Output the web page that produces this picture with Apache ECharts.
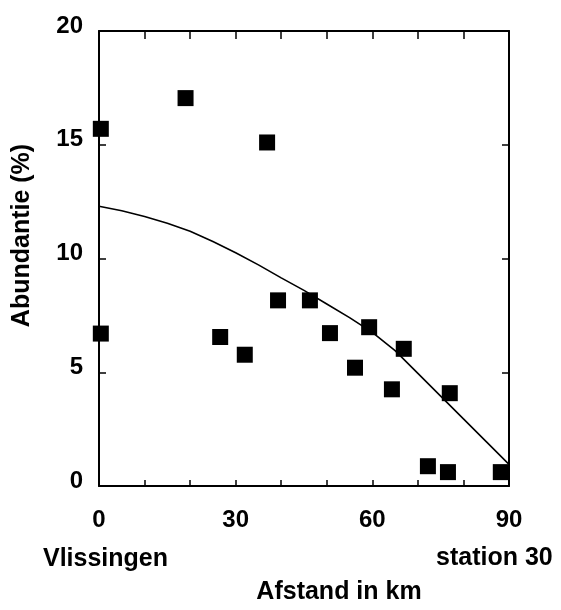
<!DOCTYPE html>
<html>
<head>
<meta charset="utf-8">
<script src="https://cdn.jsdelivr.net/npm/echarts@6/dist/echarts.min.js"></script>
<style>html,body{margin:0;padding:0;background:#fff;}#c{width:561px;height:610px;}</style>
</head>
<body>
<div id="c"></div>
<script>
// Observed stations: distance (km) and abundance (%)
var stationKm = [0.4, 0.4, 19, 26.6, 32, 36.9, 39.3, 46.3, 50.7, 56.2, 59.3, 64.3, 66.9, 72.2, 76.6, 77.0, 88.2];
var abundance = [15.7, 6.7, 17.05, 6.55, 5.77, 15.1, 8.16, 8.16, 6.72, 5.2, 6.98, 4.25, 6.03, 0.87, 0.61, 4.08, 0.61];
// Fitted curve
var curveKm = [0, 5, 10, 15, 20, 25, 30, 35, 40, 45, 50, 55, 60, 65, 70, 75, 80, 85, 90];
var curveVal = [12.3, 12.1, 11.85, 11.55, 11.2, 10.75, 10.25, 9.72, 9.15, 8.6, 8.0, 7.4, 6.75, 5.95, 4.95, 3.95, 2.95, 1.95, 0.95];
var xTickLabels = [0, 30, 60, 90];
var yTickLabels = [0, 5, 10, 15, 20];

var FONT = '"Liberation Sans", Arial, sans-serif';
var chart = echarts.init(document.getElementById('c'), null, {renderer: 'canvas'});
var axisLine = {show: true, onZero: false, lineStyle: {color: '#000', width: 2}};
var scatterData = stationKm.map(function (x, i) { return [x, abundance[i]]; });
var curveData = curveKm.map(function (x, i) { return [x, curveVal[i]]; });

chart.setOption({
  animation: false,
  backgroundColor: '#fff',
  grid: {left: 99, top: 31, right: 52, bottom: 118, containLabel: false},
  xAxis: [{
    type: 'value', position: 'bottom', min: 0, max: 90, interval: 10,
    axisLine: axisLine,
    axisTick: {show: true, inside: true, length: 6, lineStyle: {color: '#000', width: 1.5}},
    splitLine: {show: false},
    axisLabel: {
      margin: 22, color: '#000', fontFamily: FONT, fontWeight: 'bold', fontSize: 24,
      formatter: function (v) { return xTickLabels.indexOf(v) >= 0 ? String(v) : ''; }
    },
    name: 'Afstand in km', nameLocation: 'middle', nameGap: 94,
    nameTextStyle: {color: '#000', fontFamily: FONT, fontWeight: 'bold', fontSize: 25, padding: [0, 0, 0, 70]}
  }, {
    type: 'value', position: 'top', min: 0, max: 90, interval: 10,
    axisLine: axisLine,
    axisTick: {show: true, inside: true, length: 8, lineStyle: {color: '#000', width: 1.5}},
    splitLine: {show: false}, axisLabel: {show: false}
  }],
  yAxis: [{
    type: 'value', position: 'left', min: 0, max: 20, interval: 5,
    axisLine: axisLine,
    axisTick: {show: true, inside: true, length: 7, lineStyle: {color: '#000', width: 1.5}},
    splitLine: {show: false},
    axisLabel: {
      margin: 16, color: '#000', fontFamily: FONT, fontWeight: 'bold', fontSize: 24,
      verticalAlign: 'bottom', lineHeight: 10,
      formatter: function (v) { return yTickLabels.indexOf(v) >= 0 ? String(v) : ''; }
    },
    name: 'Abundantie (%)', nameLocation: 'middle', nameGap: 64, nameRotate: 90,
    nameTextStyle: {color: '#000', fontFamily: FONT, fontWeight: 'bold', fontSize: 25, padding: [0, 0, 0, 46]}
  }, {
    type: 'value', position: 'right', min: 0, max: 20, interval: 5,
    axisLine: axisLine,
    axisTick: {show: true, inside: true, length: 7, lineStyle: {color: '#000', width: 1.5}},
    splitLine: {show: false}, axisLabel: {show: false}
  }],
  graphic: [
    {type: 'text', left: 43, top: 547, style: {text: 'Vlissingen', fill: '#000', font: 'bold 25px ' + FONT}},
    {type: 'text', left: 436, top: 546, style: {text: 'station 30', fill: '#000', font: 'bold 25px ' + FONT}}
  ],
  series: [{
    type: 'line', data: curveData, smooth: false, showSymbol: false, symbol: 'none',
    lineStyle: {color: '#000', width: 1.6}, z: 2
  }, {
    type: 'scatter', data: scatterData, symbol: 'rect', symbolSize: 16,
    itemStyle: {color: '#000', opacity: 1}, z: 3
  }]
});
</script>
</body>
</html>
